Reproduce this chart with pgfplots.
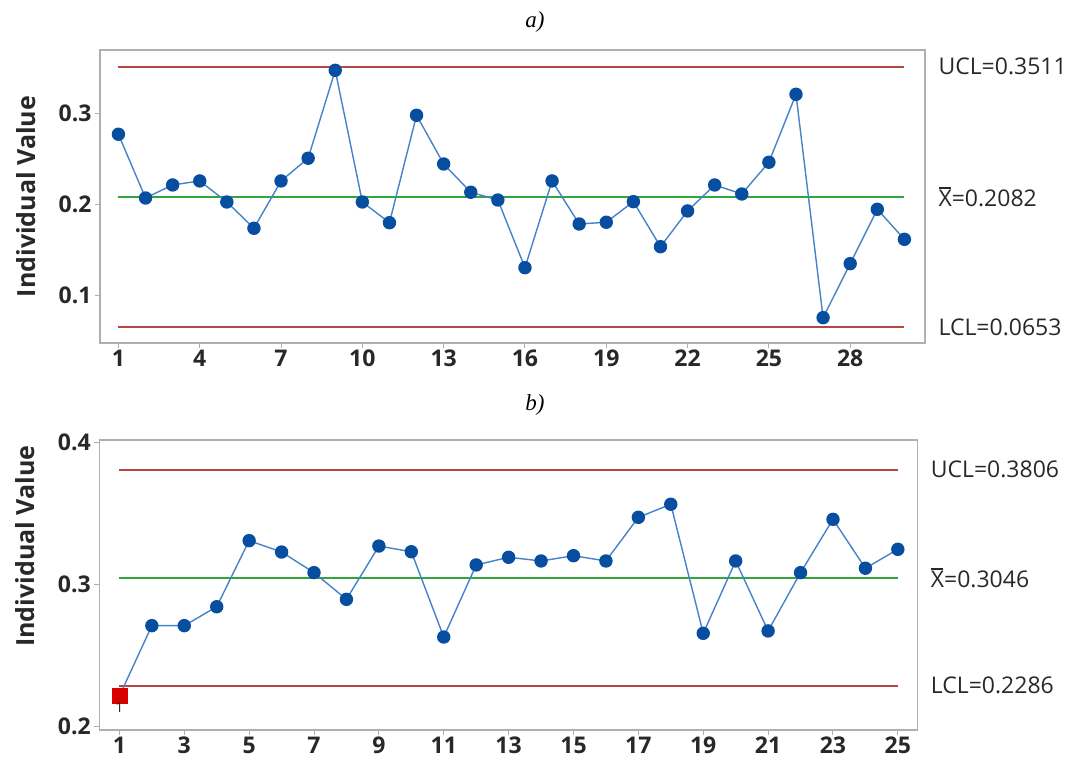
\documentclass[border=0pt]{standalone}
\usepackage{pgfplots}
\pgfplotsset{compat=1.18}
\usepackage{fontspec}
\setmainfont{Open Sans}
\newfontfamily\titlefont{Liberation Serif}
\definecolor{lineblue}{RGB}{70,130,200}
\definecolor{markblue}{RGB}{8,78,160}
\definecolor{clred}{RGB}{185,70,70}
\definecolor{clgreen}{RGB}{50,165,60}
\definecolor{framegray}{RGB}{175,175,175}
\definecolor{txt}{RGB}{40,40,40}
\newcommand\xbar{\leavevmode\rlap{\hspace{0.02em}\raisebox{0.76em}{\rule{0.52em}{0.06em}}}X}
\pgfplotsset{
  spc/.style={
    scale only axis,
    anchor=south west,
    clip=false,
    tick pos=left,
    tick align=outside,
    major tick length=5pt,
    tick style={framegray, line width=1pt},
    axis line style={draw=framegray, line width=1.5pt},
    /pgf/number format/assume math mode=true,
    ticklabel style={font=\bfseries\fontsize{23}{25}\selectfont, text=txt},
    ylabel style={font=\bfseries\fontsize{25}{27}\selectfont, text=txt, anchor=center},
    yticklabel style={/pgf/number format/fixed, /pgf/number format/precision=1},
    xticklabel style={text depth=0pt, inner sep=2pt},
  },
}
\tikzset{lbl/.style={anchor=west, xshift=10pt, font=\fontsize{23}{25}\selectfont, text=txt}}
\begin{document}
\begin{tikzpicture}[x=1pt,y=1pt]
\path[use as bounding box] (0,0) rectangle (1066,760);
\node[font=\titlefont\itshape\fontsize{23}{25}\selectfont] at (535,738) {a)};
\node[font=\titlefont\itshape\fontsize{23}{25}\selectfont] at (535,355) {b)};

\begin{axis}[spc, at={(100pt,417pt)}, width=825pt, height=293pt,
  xmin=0.32, xmax=30.76, ymin=0.0481, ymax=0.3694,
  xtick={1,4,...,28}, ytick={0.1,0.2,0.3},
  ylabel={Individual Value},
  ylabel style={at={(axis description cs:-0.09,0.5)}}]
\addplot[color=clred, line width=2pt, mark=none] coordinates {(1,0.3511) (30,0.3511)};
\addplot[color=clred, line width=2pt, mark=none] coordinates {(1,0.0653) (30,0.0653)};
\addplot[color=clgreen, line width=2pt, mark=none] coordinates {(1,0.2082) (30,0.2082)};
\addplot[color=lineblue, line width=1.4pt, mark=*, mark size=6pt, mark options={fill=markblue, draw=markblue}] coordinates {
(1,0.2770) (2,0.2071) (3,0.2214) (4,0.2258) (5,0.2027) (6,0.1739)
(7,0.2258) (8,0.2507) (9,0.3471) (10,0.2027) (11,0.1800) (12,0.2978)
(13,0.2444) (14,0.2134) (15,0.2049) (16,0.1307) (17,0.2258) (18,0.1786)
(19,0.1805) (20,0.2031) (21,0.1537) (22,0.1929) (23,0.2214) (24,0.2115)
(25,0.2463) (26,0.3208) (27,0.0759) (28,0.1351) (29,0.1947) (30,0.1618)};
\node[lbl] at (axis cs:30.76,0.3511) {UCL=0.3511};
\node[lbl] at (axis cs:30.76,0.2082) {\xbar=0.2082};
\node[lbl] at (axis cs:30.76,0.0653) {LCL=0.0653};
\end{axis}

\begin{axis}[spc, at={(99.3pt,30pt)}, width=818pt, height=290pt,
  xmin=0.38, xmax=25.6, ymin=0.1975, ymax=0.4015,
  xtick={1,3,...,25}, ytick={0.2,0.3,0.4},
  ylabel={Individual Value},
  ylabel style={at={(axis description cs:-0.091,0.634)}}]
\addplot[color=clred, line width=2pt, mark=none] coordinates {(1,0.3806) (25,0.3806)};
\addplot[color=clred, line width=2pt, mark=none] coordinates {(1,0.2286) (25,0.2286)};
\addplot[color=clgreen, line width=2pt, mark=none] coordinates {(1,0.3046) (25,0.3046)};
\addplot[color=lineblue, line width=1.4pt, mark=*, mark size=6pt, mark options={fill=markblue, draw=markblue}] coordinates {
(1,0.2214) (2,0.2709) (3,0.2709) (4,0.2842) (5,0.3307) (6,0.3227)
(7,0.3082) (8,0.2894) (9,0.3269) (10,0.3229) (11,0.2629) (12,0.3136)
(13,0.3190) (14,0.3164) (15,0.3201) (16,0.3164) (17,0.3471) (18,0.3563)
(19,0.2655) (20,0.3164) (21,0.2672) (22,0.3082) (23,0.3457) (24,0.3113)
(25,0.3246)};
\addplot[only marks, mark=square*, mark size=7.5pt, mark options={fill=red!85!black, draw=red!85!black},
  nodes near coords={1}, every node near coord/.style={anchor=north, yshift=-6pt, inner sep=0pt, font=\fontsize{14}{15}\selectfont, text=txt}]
  coordinates {(1,0.2214)};
\node[lbl] at (axis cs:25.6,0.3806) {UCL=0.3806};
\node[lbl] at (axis cs:25.6,0.3046) {\xbar=0.3046};
\node[lbl] at (axis cs:25.6,0.2286) {LCL=0.2286};
\end{axis}
\end{tikzpicture}
\end{document}
